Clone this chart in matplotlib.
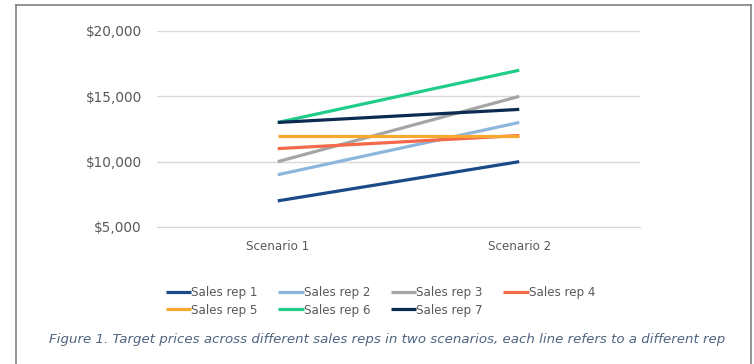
import matplotlib
matplotlib.use("Agg")
import matplotlib.pyplot as plt
from matplotlib.lines import Line2D
from matplotlib.ticker import FuncFormatter

scenarios = ["Scenario 1", "Scenario 2"]
reps = ["Sales rep 1", "Sales rep 2", "Sales rep 3", "Sales rep 4",
        "Sales rep 5", "Sales rep 6", "Sales rep 7"]
rep1 = [7000, 10000]
rep2 = [9000, 13000]
rep3 = [10000, 15000]
rep4 = [11000, 12000]
rep5 = [12000, 12000]
rep6 = [13000, 17000]
rep7 = [13000, 14000]
series = [rep1, rep2, rep3, rep4, rep5, rep6, rep7]
colors = ["#1b4a89", "#8db6dc", "#a5a5a5", "#f4694a", "#f9a82f", "#20cc8a", "#0c2b50"]
yticks = [5000, 10000, 15000, 20000]
caption = "Figure 1. Target prices across different sales reps in two scenarios, each line refers to a different rep"

W, H = 754, 364
plt.rcParams['font.family'] = ['DejaVu Sans']
fig = plt.figure(figsize=(W / 100, H / 100), dpi=100)

ax = fig.add_axes([157 / W, 1 - 227 / H, (640 - 157) / W, (227 - 31) / H])
x = list(range(len(scenarios)))
handles = []
for name, vals, c in zip(reps, series, colors):
    h, = ax.plot(x, vals, color=c, lw=2.3, label=name, solid_capstyle='butt', zorder=3)
    handles.append(h)

ax.set_xlim(-0.5, 1.5)
ax.set_ylim(5000, 20000)
ax.set_yticks(yticks)
ax.yaxis.set_major_formatter(FuncFormatter(lambda v, p: f"${v:,.0f}"))
ax.set_xticks(x)
ax.set_xticklabels(scenarios)
ax.grid(axis='y', color='#d9d9d9', lw=1)
ax.set_axisbelow(True)
for s in ['top', 'right', 'left']:
    ax.spines[s].set_visible(False)
ax.spines['bottom'].set_color('#d9d9d9')
ax.tick_params(axis='both', length=0, colors='#595959')
ax.tick_params(axis='y', pad=11, labelsize=9.8)
ax.tick_params(axis='x', pad=9, labelsize=8.6)

# row-major legend order for a 4-column, 2-row layout
order = [0, 4, 1, 5, 2, 6, 3]
leg = fig.legend([handles[i] for i in order], [reps[i] for i in order],
                 loc='upper left', bbox_to_anchor=(166 / W, 1 - 286 / H), ncol=4,
                 frameon=False, fontsize=8.6, handlelength=2.1, handletextpad=0.0,
                 columnspacing=1.75, labelspacing=0.38, borderaxespad=0, borderpad=0)
for t in leg.get_texts():
    t.set_color('#595959')

fig.text(387 / W, 1 - 339 / H, caption, ha='center', va='center', style='italic',
         color='#4f6580', fontsize=9.65)

# border
bc = '#808080'
fig.add_artist(Line2D([16 / W, 16 / W], [0, 1 - 5 / H], color=bc, lw=1.2))
fig.add_artist(Line2D([16 / W, 751 / W], [1 - 5 / H, 1 - 5 / H], color=bc, lw=1.2))
fig.add_artist(Line2D([751 / W, 751 / W], [0, 1 - 5 / H], color=bc, lw=1.2))

fig.savefig("out.png", dpi=100)
